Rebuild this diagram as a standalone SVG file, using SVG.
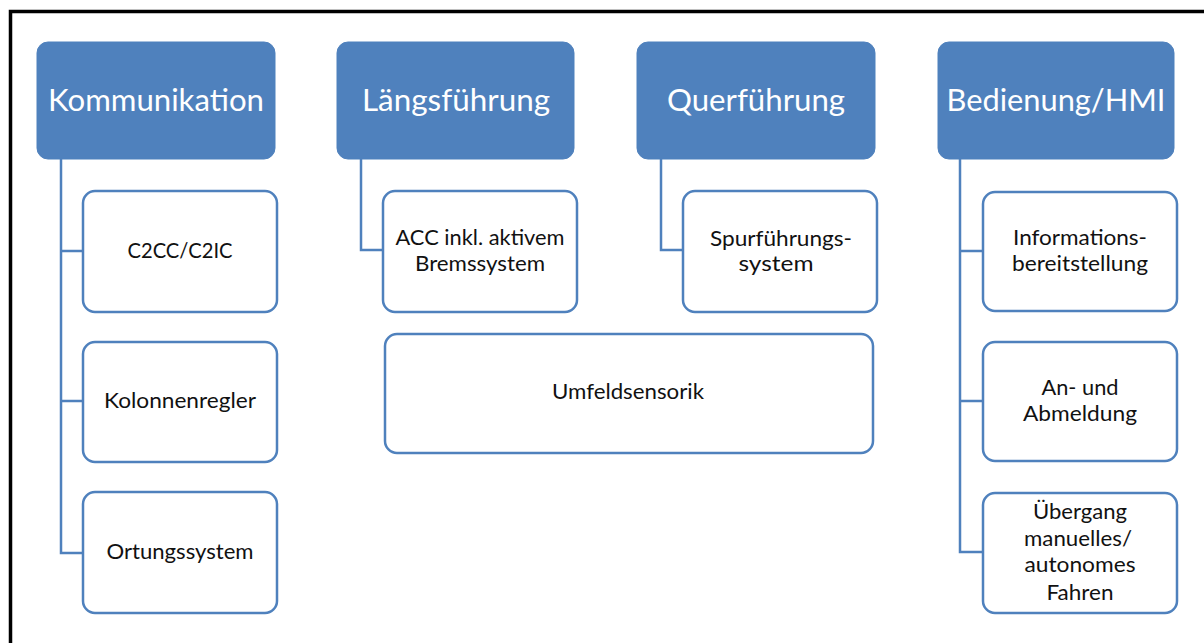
<svg xmlns="http://www.w3.org/2000/svg" width="1204" height="643" viewBox="0 0 1204 643">
  <style>
    .head rect { fill: #4F81BD; stroke: #4F81BD; stroke-width: 1; }
    .head text { fill: #FFFFFF; font-family: Lato, "Open Sans", "Liberation Sans", sans-serif; font-size: 31px; text-anchor: middle; }
    .item rect { fill: #FFFFFF; stroke: #4F81BD; stroke-width: 2.5; }
    .item text { fill: #111111; font-family: Lato, "Open Sans", "Liberation Sans", sans-serif; font-size: 21px; text-anchor: middle; }
    .link { fill: none; stroke: #4F81BD; stroke-width: 2.5; }
    .frame { fill: none; stroke: #000000; stroke-width: 3.5; }
  </style>
  <rect x="0" y="0" width="1204" height="643" fill="#FFFFFF"/>

  <!-- outer frame: top and left edges only -->
  <path class="frame" d="M10.5,643 V11.5 H1204"/>

  <!-- connectors -->
  <g id="connectors">
    <path class="link" d="M61,159 V553 H83 M61,251 H83 M61,401 H83"/>
    <path class="link" d="M361,159 V250 H383"/>
    <path class="link" d="M661,159 V250 H683"/>
    <path class="link" d="M960,159 V552 H983 M960,251 H983 M960,401 H983"/>
  </g>

  <!-- column headers -->
  <g id="kommunikation" class="head">
    <rect x="37" y="42" width="238" height="117" rx="11"/>
    <text x="156" y="111" textLength="216" lengthAdjust="spacingAndGlyphs">Kommunikation</text>
  </g>
  <g id="laengsfuehrung" class="head">
    <rect x="337" y="42" width="237" height="117" rx="11"/>
    <text x="456" y="111" textLength="188" lengthAdjust="spacingAndGlyphs">Längsführung</text>
  </g>
  <g id="querfuehrung" class="head">
    <rect x="637" y="42" width="238" height="117" rx="11"/>
    <text x="756" y="111" textLength="178" lengthAdjust="spacingAndGlyphs">Querführung</text>
  </g>
  <g id="bedienung" class="head">
    <rect x="938" y="42" width="236" height="117" rx="11"/>
    <text x="1056" y="111" textLength="219" lengthAdjust="spacingAndGlyphs">Bedienung/HMI</text>
  </g>

  <!-- Kommunikation items -->
  <g id="c2cc" class="item">
    <rect x="83" y="191" width="194" height="121" rx="12"/>
    <text x="180" y="258" textLength="105" lengthAdjust="spacingAndGlyphs">C2CC/C2IC</text>
  </g>
  <g id="kolonnenregler" class="item">
    <rect x="83" y="342" width="194" height="120" rx="12"/>
    <text x="180" y="408" textLength="152" lengthAdjust="spacingAndGlyphs">Kolonnenregler</text>
  </g>
  <g id="ortungssystem" class="item">
    <rect x="83" y="492" width="194" height="121" rx="12"/>
    <text x="180" y="559" textLength="147" lengthAdjust="spacingAndGlyphs">Ortungssystem</text>
  </g>

  <!-- Längsführung item -->
  <g id="acc" class="item">
    <rect x="383" y="191" width="194" height="121" rx="12"/>
    <text x="480" y="245" textLength="169" lengthAdjust="spacingAndGlyphs">ACC inkl. aktivem</text>
    <text x="480" y="271" textLength="130" lengthAdjust="spacingAndGlyphs">Bremssystem</text>
  </g>

  <!-- Querführung item -->
  <g id="spurfuehrung" class="item">
    <rect x="683" y="191" width="194" height="121" rx="12"/>
    <text x="781" y="246" textLength="142" lengthAdjust="spacingAndGlyphs">Spurführungs-</text>
    <text x="776" y="271" textLength="75" lengthAdjust="spacingAndGlyphs">system</text>
  </g>

  <!-- shared sensing -->
  <g id="umfeldsensorik" class="item">
    <rect x="385" y="334" width="488" height="119" rx="12"/>
    <text x="628" y="399" textLength="152" lengthAdjust="spacingAndGlyphs">Umfeldsensorik</text>
  </g>

  <!-- Bedienung/HMI items -->
  <g id="information" class="item">
    <rect x="983" y="192" width="194" height="119" rx="12"/>
    <text x="1080" y="245" textLength="134" lengthAdjust="spacingAndGlyphs">Informations-</text>
    <text x="1080" y="271" textLength="136" lengthAdjust="spacingAndGlyphs">bereitstellung</text>
  </g>
  <g id="anmeldung" class="item">
    <rect x="983" y="342" width="194" height="119" rx="12"/>
    <text x="1080" y="395" textLength="77" lengthAdjust="spacingAndGlyphs">An- und</text>
    <text x="1080" y="421" textLength="114" lengthAdjust="spacingAndGlyphs">Abmeldung</text>
  </g>
  <g id="uebergang" class="item">
    <rect x="983" y="493" width="194" height="120" rx="12"/>
    <text x="1080" y="519" textLength="94" lengthAdjust="spacingAndGlyphs">Übergang</text>
    <text x="1078" y="546" textLength="108" lengthAdjust="spacingAndGlyphs">manuelles/</text>
    <text x="1080" y="572" textLength="111" lengthAdjust="spacingAndGlyphs">autonomes</text>
    <text x="1080" y="600" textLength="67" lengthAdjust="spacingAndGlyphs">Fahren</text>
  </g>
</svg>
